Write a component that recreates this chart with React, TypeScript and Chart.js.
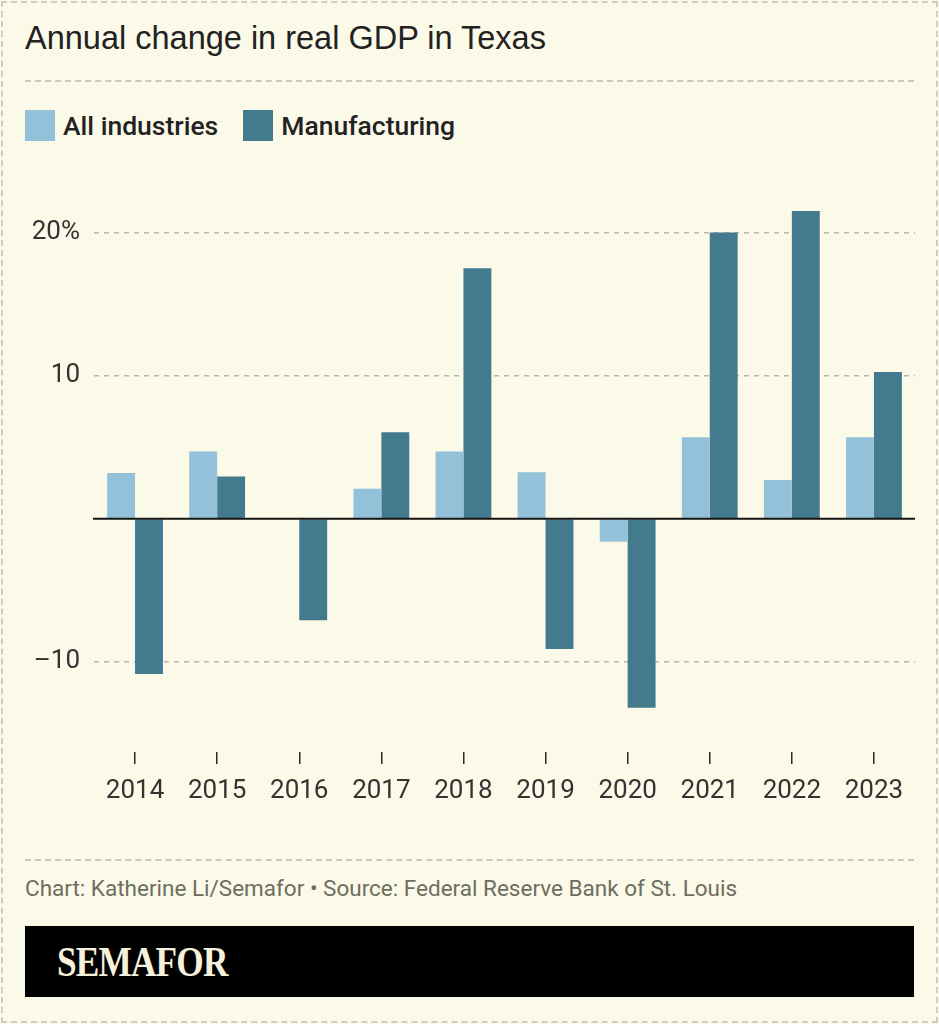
import React, { useEffect, useRef } from "react";
import { Chart, registerables } from "chart.js";

Chart.register(...registerables);

const years = ["2014", "2015", "2016", "2017", "2018", "2019", "2020", "2021", "2022", "2023"];
const allIndustries = [3.2, 4.7, 0, 2.1, 4.7, 3.25, -1.6, 5.7, 2.7, 5.7];
const manufacturing = [-10.85, 2.95, -7.1, 6.05, 17.5, -9.1, -13.2, 20.0, 21.5, 10.25];
const yTickValues = [-10, 0, 10, 20];

const LIGHT = "#93c1d9";
const DARK = "#437a8e";
const BG = "#fbf9e8";
const FONT = "Roboto, 'Noto Sans', sans-serif";

const zeroLine = {
  id: "zeroLine",
  afterDatasetsDraw(chart: any) {
    const y = chart.scales.y.getPixelForValue(0);
    const { left, right } = chart.chartArea;
    const ctx = chart.ctx;
    ctx.save();
    ctx.strokeStyle = "#151515";
    ctx.lineWidth = 2;
    ctx.beginPath();
    ctx.moveTo(left - 1, y);
    ctx.lineTo(right, y);
    ctx.stroke();
    ctx.restore();
  },
};

function BarChart() {
  const ref = useRef<HTMLCanvasElement>(null);
  useEffect(() => {
    if (!ref.current) return;
    const chart = new Chart(ref.current, {
      type: "bar",
      data: {
        labels: years,
        datasets: [
          { label: "All industries", data: allIndustries, backgroundColor: LIGHT, borderWidth: 0 },
          { label: "Manufacturing", data: manufacturing, backgroundColor: DARK, borderWidth: 0 },
        ],
      },
      options: {
        responsive: false,
        animation: false,
        devicePixelRatio: 1,
        layout: { padding: { top: 161, right: 24, left: 0, bottom: 0 } },
        datasets: { bar: { categoryPercentage: 0.68, barPercentage: 1.0 } },
        plugins: { legend: { display: false }, tooltip: { enabled: false }, title: { display: false } },
        scales: {
          x: {
            border: { display: false },
            grid: {
              offset: false,
              drawOnChartArea: false,
              drawTicks: true,
              tickLength: 12,
              color: "#2a2a2a",
              lineWidth: 1.5,
            },
            ticks: { color: "#333", padding: 12, font: { family: FONT, size: 26 } },
            afterFit: (s: any) => {
              s.height = 78;
            },
          },
          y: {
            min: -16.3,
            max: 25,
            border: { display: false, dash: [5, 5] },
            grid: {
              drawTicks: false,
              color: (c: any) => (c.tick && c.tick.value === 0 ? "rgba(0,0,0,0)" : "#b9b8ac"),
              lineWidth: 1.5,
            },
            ticks: {
              color: "#333",
              padding: 14,
              font: { family: FONT, size: 26 },
              callback: (v: any) =>
                v === 0 ? "" : v === 20 ? "20%" : v < 0 ? "–" + Math.abs(v) : String(v),
            },
            afterBuildTicks: (s: any) => {
              s.ticks = yTickValues.map((v) => ({ value: v }));
            },
            afterFit: (s: any) => {
              s.width = 94;
            },
          },
        },
      },
      plugins: [zeroLine],
    });
    return () => chart.destroy();
  }, []);
  return (
    <canvas
      ref={ref}
      width={939}
      height={830}
      style={{ position: "absolute", left: 0, top: 0, width: 939, height: 830, display: "block" }}
    />
  );
}

export default function App() {
  const legendItem = (color: string, label: string, mr: number) => (
    <div style={{ display: "flex", alignItems: "center", marginRight: mr }}>
      <div style={{ width: 30, height: 31, background: color, marginRight: 8 }} />
      <span style={{ fontFamily: FONT, fontSize: 26.5, fontWeight: 500, color: "#222" }}>{label}</span>
    </div>
  );
  return (
    <div
      style={{
        position: "absolute",
        left: 0,
        top: 0,
        width: 939,
        height: 1024,
        background: BG,
        overflow: "hidden",
      }}
    >
      <div
        style={{
          position: "absolute",
          left: 1,
          top: 1,
          width: 933,
          height: 1018,
          border: "2px dashed #cfcdc2",
        }}
      />
      <div
        style={{
          position: "absolute",
          left: 25,
          top: 17,
          fontFamily: "'Liberation Sans', Arial, sans-serif",
          fontSize: 32.5,
          color: "#222",
          whiteSpace: "nowrap",
          lineHeight: "42px",
        }}
      >
        Annual change in real GDP in Texas
      </div>
      <div style={{ position: "absolute", left: 25, top: 80, width: 889, borderTop: "2px dashed #c9c8bd" }} />
      <div style={{ position: "absolute", left: 25, top: 110, display: "flex" }}>
        {legendItem(LIGHT, "All industries", 25)}
        {legendItem(DARK, "Manufacturing", 0)}
      </div>
      <BarChart />
      <div style={{ position: "absolute", left: 25, top: 859, width: 889, borderTop: "2px dashed #c9c8bd" }} />
      <div
        style={{
          position: "absolute",
          left: 25,
          top: 873,
          fontFamily: FONT,
          fontSize: 22.5,
          color: "#6e6d62",
          whiteSpace: "nowrap",
          lineHeight: "30px",
        }}
      >
        Chart: Katherine Li/Semafor • Source: Federal Reserve Bank of St. Louis
      </div>
      <div
        style={{
          position: "absolute",
          left: 25,
          top: 926,
          width: 889,
          height: 71,
          background: "#000",
        }}
      >
        <div
          style={{
            position: "absolute",
            left: 32,
            top: 12,
            fontFamily: "'Liberation Serif', 'DejaVu Serif', serif",
            fontWeight: 700,
            fontSize: 42,
            lineHeight: "48px",
            color: "#f6f1dc",
            transform: "scaleX(0.84)",
            transformOrigin: "left center",
            letterSpacing: -1,
            whiteSpace: "nowrap",
          }}
        >
          SEMAFOR
        </div>
      </div>
    </div>
  );
}
